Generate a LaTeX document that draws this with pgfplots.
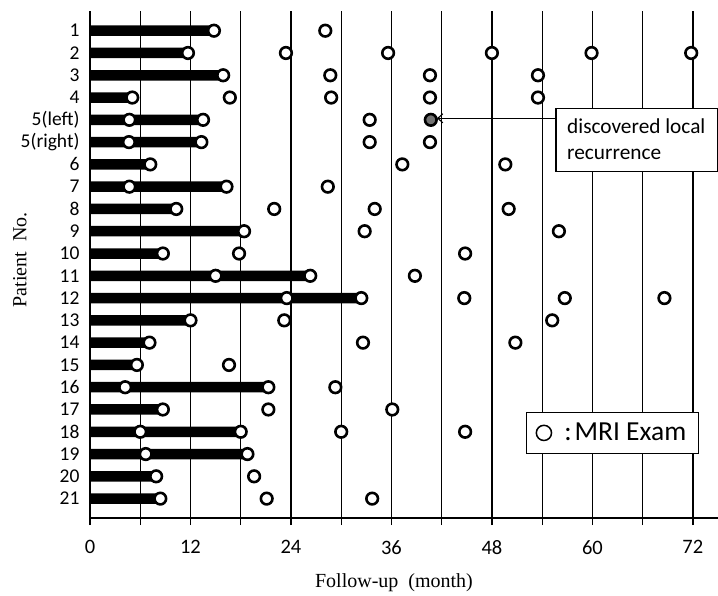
\documentclass[border=0pt]{standalone}
\usepackage{fontspec}
\setmainfont{Liberation Serif}
\newfontfamily\calib{Carlito}
\usepackage{pgfplots}
\pgfplotsset{compat=1.18}
\usetikzlibrary{arrows.meta}

\begin{document}
\begin{tikzpicture}
\begin{axis}[
  scale only axis, width=628pt, height=507pt,
  at={(0pt,0pt)}, anchor=south west,
  xmin=0, xmax=75, ymin=0.116, ymax=22.87, y dir=reverse,
  axis x line*=bottom, axis y line*=left,
  axis line style={line width=2.6pt},
  xtick={0,6,...,72},
  xticklabels={0,,12,,24,,36,,48,,60,,72},
  ytick={1,...,22},
  yticklabels={1,2,3,4,5(left),5(right),6,7,8,9,10,11,12,13,14,15,16,17,18,19,20,21},
  tick align=outside, major tick length=7pt,
  xtick style={black, line width=1.3pt},
  ytick style={draw=none},
  xmajorgrids, grid style={black, line width=1.3pt},
  xticklabel style={font=\calib\fontsize{20.5}{24}\selectfont, yshift=-12pt},
  yticklabel style={font=\calib\fontsize{19.5}{23}\selectfont},
  clip=false,
  legend style={at={(0.6943,0.1262)}, anchor=south west, draw=black, line width=1.1pt,
    fill=white, inner xsep=9pt, inner ysep=11pt,
    font=\calib\fontsize{27.5}{30}\selectfont, column sep=0pt,
    nodes={inner xsep=3pt, inner ysep=0pt}},
  legend image code/.code={\draw[line width=1.5pt, fill=white] (0pt,0pt) circle[radius=7.6pt];},
]

% follow-up bars
\addplot[xbar, bar width=10.5pt, fill=black, draw=none, forget plot] coordinates {
  (14.8,1) (11.7,2) (15.9,3) (5.05,4) (13.5,5) (13.3,6) (7.2,7) (16.3,8)
  (10.3,9) (18.4,10) (8.7,11) (26.3,12) (32.4,13) (12.0,14) (7.1,15) (5.6,16)
  (21.3,17) (8.7,18) (18.0,19) (18.8,20) (7.9,21) (8.4,22)
};

% MRI exams
\addplot[only marks, mark=*, mark size=5.8pt,
  mark options={fill=white, draw=black, line width=2.6pt}] coordinates {
  (14.8,1) (28.1,1)
  (11.7,2) (23.4,2) (35.6,2) (48.0,2) (59.9,2) (71.8,2)
  (15.9,3) (28.7,3) (40.6,3) (53.5,3)
  (5.05,4) (16.7,4) (28.8,4) (40.6,4) (53.5,4)
  (4.7,5) (13.5,5) (33.4,5)
  (4.65,6) (13.3,6) (33.4,6) (40.6,6)
  (7.2,7) (37.3,7) (49.6,7)
  (4.7,8) (16.3,8) (28.4,8)
  (10.3,9) (22.0,9) (34.0,9) (50.0,9)
  (18.4,10) (32.8,10) (56.0,10)
  (8.7,11) (17.8,11) (44.8,11)
  (15.0,12) (26.3,12) (38.8,12)
  (23.5,13) (32.4,13) (44.7,13) (56.7,13) (68.6,13)
  (12.0,14) (23.2,14) (55.2,14)
  (7.1,15) (32.6,15) (50.8,15)
  (5.6,16) (16.6,16)
  (4.2,17) (21.3,17) (29.3,17)
  (8.7,18) (21.3,18) (36.1,18)
  (6.0,19) (18.0,19) (30.0,19) (44.8,19)
  (6.65,20) (18.8,20)
  (7.9,21) (19.6,21)
  (8.4,22) (21.1,22) (33.7,22)
};
\addlegendentry{\hspace{9pt}:\hspace{3pt}MRI Exam}

% recurrence
\addplot[only marks, mark=*, mark size=5.8pt, forget plot,
  mark options={fill=black!55, draw=black, line width=2.6pt}] coordinates {(40.7,5)};
\end{axis}

% annotation
\draw[line width=1.1pt, -{Straight Barb[length=5pt, width=9pt]}] (466pt,399.7pt) -- (347pt,399.7pt);
\draw[line width=1.1pt, fill=white] (466pt,409.7pt) rectangle (627.5pt,346.3pt);
\node[anchor=base west, inner sep=0pt, font=\calib\fontsize{21.3}{25}\selectfont] at (477pt,384.7pt) {discovered local};
\node[anchor=base west, inner sep=0pt, font=\calib\fontsize{21.3}{25}\selectfont] at (477pt,358.7pt) {recurrence};

% axis titles
\node[rotate=90, font=\fontsize{20}{24}\selectfont] at (-70pt,258pt) {Patient~ No.};
\node[font=\fontsize{20}{24}\selectfont] at (304pt,-65pt) {Follow-up~ (month)};

\pgfresetboundingbox
\path (-90pt,-77pt) rectangle (628pt,518pt);
\end{tikzpicture}
\end{document}
